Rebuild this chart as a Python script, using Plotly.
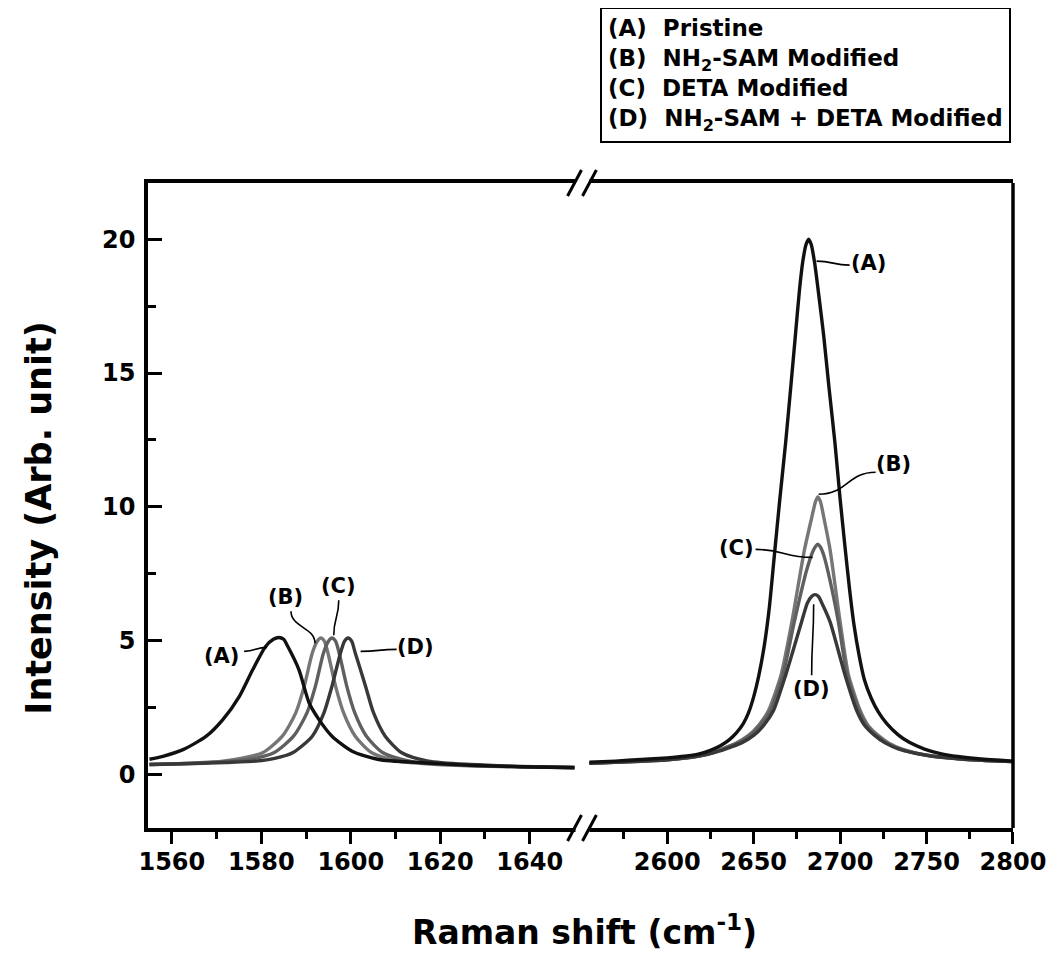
import plotly.graph_objects as go

# ---------------- data ----------------
# G band region (left panel)
A_g_x = [1555, 1558, 1562.5, 1567.7, 1571.4, 1575.1, 1578.1, 1581.0, 1582.7, 1583.9, 1585.0, 1585.9, 1588.4, 1590.7, 1592.9, 1595.8, 1600.3, 1606.2, 1615.8, 1627, 1638, 1650]
A_g_y = [0.57, 0.68, 0.93, 1.43, 2.05, 2.92, 3.92, 4.79, 5.05, 5.12, 5.05, 4.79, 3.92, 2.67, 2.05, 1.43, 0.87, 0.56, 0.44, 0.34, 0.29, 0.25]

B_g_x = [1555, 1565, 1571.4, 1576, 1580.3, 1584.7, 1587.7, 1589.6, 1591.4, 1592.5, 1593.3, 1594.1, 1594.9, 1596.6, 1598.4, 1601, 1604.7, 1610.7, 1619.6, 1630, 1640, 1650]
B_g_y = [0.37, 0.43, 0.5, 0.62, 0.81, 1.43, 2.3, 3.3, 4.54, 4.98, 5.1, 4.98, 4.54, 3.3, 2.3, 1.43, 0.81, 0.5, 0.37, 0.31, 0.28, 0.26]

C_g_x = [1555, 1565, 1572, 1578, 1582.8, 1587.2, 1590.2, 1592.1, 1593.9, 1595.0, 1595.8, 1596.6, 1597.4, 1599.1, 1600.9, 1603.5, 1607.2, 1613.2, 1622, 1632, 1641, 1650]
C_g_y = [0.37, 0.42, 0.48, 0.58, 0.81, 1.43, 2.3, 3.3, 4.54, 4.98, 5.1, 4.98, 4.54, 3.3, 2.3, 1.43, 0.81, 0.5, 0.37, 0.31, 0.28, 0.26]

D_g_x = [1555, 1565, 1572, 1578.8, 1583, 1587, 1591.4, 1594, 1595.8, 1597.7, 1598.6, 1599.4, 1600.2, 1601, 1603.3, 1605.1, 1607.7, 1611.4, 1617.3, 1627, 1638, 1650]
D_g_y = [0.37, 0.41, 0.45, 0.5, 0.6, 0.81, 1.43, 2.3, 3.3, 4.54, 4.98, 5.1, 4.98, 4.54, 3.3, 2.3, 1.43, 0.81, 0.5, 0.37, 0.3, 0.26]

# 2D band region (right panel)
A_2d_x = [2555, 2570, 2585, 2600, 2610, 2618, 2625, 2631, 2636, 2640, 2644, 2647, 2650, 2653, 2656, 2659, 2662, 2665,
          2668.5, 2671.5, 2674, 2676.5, 2678.5, 2680.3, 2681.8, 2683.3, 2685.3, 2687.5, 2690.5, 2693.5, 2697, 2700,
          2703, 2705.5, 2708, 2711, 2714, 2718, 2722, 2727, 2733.6, 2740, 2748.8, 2758, 2768, 2785, 2800]
A_2d_y = [0.46, 0.5, 0.56, 0.62, 0.68, 0.76, 0.9, 1.08, 1.3, 1.55, 1.9, 2.3, 2.9, 3.7, 4.75, 6.2, 8.2, 10.2,
          12.4, 14.5, 16.3, 18.1, 19.2, 19.8, 20.0, 19.8, 19.1, 18.0, 16.4, 14.5, 12.4, 10.3,
          8.4, 6.9, 5.6, 4.45, 3.55, 2.85, 2.35, 1.9, 1.48, 1.2, 0.95, 0.78, 0.67, 0.56, 0.5]

B_2d_x = [2555, 2580, 2600, 2615, 2624, 2631.7, 2640, 2647, 2653, 2658.6, 2665.9, 2672.1, 2679.4, 2683.6, 2685.8, 2687.1,
          2688.6, 2690.9, 2694.2, 2700, 2704.8, 2711.6, 2716, 2722, 2728, 2735.5, 2750, 2770, 2800]
B_2d_y = [0.42, 0.48, 0.55, 0.65, 0.78, 0.96, 1.18, 1.46, 1.85, 2.39, 3.73, 5.7, 8.4, 9.6, 10.2, 10.37,
          10.2, 9.5, 8.4, 5.7, 3.73, 2.39, 1.85, 1.46, 1.18, 0.96, 0.72, 0.58, 0.48]

C_2d_x = [2555, 2580, 2600, 2615, 2625, 2632.5, 2641, 2648, 2654, 2659.8, 2667, 2673.5, 2680.5, 2684, 2685.8, 2687.1,
          2688.6, 2690.5, 2694, 2699, 2704, 2710.8, 2715, 2721, 2727, 2734.5, 2750, 2770, 2800]
C_2d_y = [0.42, 0.48, 0.55, 0.65, 0.78, 0.96, 1.18, 1.46, 1.85, 2.39, 3.73, 5.7, 7.6, 8.3, 8.52, 8.6,
          8.5, 8.2, 7.3, 5.7, 3.73, 2.39, 1.85, 1.46, 1.18, 0.96, 0.72, 0.58, 0.48]

D_2d_x = [2555, 2580, 2600, 2615, 2626, 2634, 2643, 2650, 2656, 2661.5, 2668.6, 2677.7, 2681, 2683.5, 2685.5, 2687.5,
          2689.5, 2694.2, 2702.8, 2709.6, 2714, 2720, 2726, 2733.6, 2750, 2770, 2800]
D_2d_y = [0.42, 0.48, 0.55, 0.66, 0.8, 0.96, 1.18, 1.46, 1.85, 2.39, 3.73, 5.7, 6.4, 6.65, 6.72, 6.65,
          6.4, 5.7, 3.73, 2.39, 1.85, 1.46, 1.18, 0.96, 0.72, 0.58, 0.48]

series_names = ["(A) Pristine", "(B) NH2-SAM Modified", "(C) DETA Modified", "(D) NH2-SAM + DETA Modified"]
series_tags = ["(A)", "(B)", "(C)", "(D)"]
series_colors = ["#111111", "#767676", "#5f5f5f", "#383838"]

legend_lines = ["(A)  Pristine", "(B)  NH<sub>2</sub>-SAM Modified", "(C)  DETA Modified",
                "(D)  NH<sub>2</sub>-SAM + DETA Modified"]

y_ticks = [0, 5, 10, 15, 20]
y_minor = [2.5, 7.5, 12.5, 17.5]
left_ticks = [1560, 1580, 1600, 1620, 1640]
left_minor = [1570, 1590, 1610, 1630]
right_ticks = [2600, 2650, 2700, 2750, 2800]
right_minor = [2575, 2625, 2675, 2725, 2775]

# ---------------- figure ----------------
FONT = "DejaVu Sans"
fig = go.Figure()

g_sets = [(A_g_x, A_g_y), (B_g_x, B_g_y), (C_g_x, C_g_y), (D_g_x, D_g_y)]
d_sets = [(A_2d_x, A_2d_y), (B_2d_x, B_2d_y), (C_2d_x, C_2d_y), (D_2d_x, D_2d_y)]

order = [1, 2, 3, 0]
for i in order:
    gx, gy = g_sets[i]
    fig.add_trace(go.Scatter(x=gx, y=gy, mode="lines",
                             line=dict(color=series_colors[i], width=3.4, shape="spline", smoothing=0.7),
                             name=series_names[i], xaxis="x", yaxis="y", showlegend=False))
for i in order:
    dx, dy = d_sets[i]
    fig.add_trace(go.Scatter(x=dx, y=dy, mode="lines",
                             line=dict(color=series_colors[i], width=3.4, shape="spline", smoothing=0.6),
                             name=series_names[i], xaxis="x2", yaxis="y", showlegend=False))

# page body has an 8px margin: compensate so the plot area lands where the reference has it
OFF = 8
W, H = 1058 - OFF, 969 - OFF
PL, PT, PR, PB = 148, 183, 1018, 828          # plot area in page pixels
L, T = PL - OFF, PT - OFF
R, B = W - (PR - OFF), H - (PB - OFF)
pw, ph = PR - PL, PB - PT
brk = (585 - PL) / pw


def px(xp):
    return (xp - PL) / pw


def py(yp):
    return (PB - yp) / ph


tickfont = dict(family=FONT, size=24, color="black", weight="bold")
common_x = dict(showline=True, linewidth=3.5, linecolor="black", mirror=True, showgrid=False, zeroline=False,
                ticks="outside", ticklen=12, tickwidth=3, tickcolor="black", tickfont=tickfont, anchor="y",
                ticklabelstandoff=-3)

fig.update_layout(
    width=W, height=H,
    margin=dict(l=L, r=R, t=T, b=B),
    paper_bgcolor="white", plot_bgcolor="white",
    xaxis=dict(domain=[0, brk], range=[1554.67, 1651.8], tickvals=left_ticks,
               minor=dict(tickvals=left_minor, ticks="outside", ticklen=7, tickwidth=2.5, tickcolor="black"),
               **common_x),
    xaxis2=dict(domain=[brk, 1], range=[2551, 2800], tickvals=right_ticks,
                minor=dict(tickvals=right_minor, ticks="outside", ticklen=7, tickwidth=2.5, tickcolor="black"),
                **common_x),
    yaxis=dict(range=[-2, 22.1], tickvals=y_ticks, showline=True, linewidth=3.5, linecolor="black", mirror=False,
               showgrid=False, zeroline=False, ticks="inside", ticklen=14, tickwidth=3, tickcolor="black",
               minor=dict(tickvals=y_minor, ticks="inside", ticklen=8, tickwidth=2.5, tickcolor="black"),
               tickfont=tickfont, ticklabelstandoff=4),
)

annots = []
annots.append(dict(text="Raman shift (cm<sup>-1</sup>)", xref="paper", yref="paper", x=px(587), y=py(930),
                   showarrow=False, xanchor="center", yanchor="middle",
                   font=dict(family=FONT, size=33, color="black", weight="bold")))
annots.append(dict(text="Intensity (Arb. unit)", xref="paper", yref="paper", x=px(38), y=py(518),
                   showarrow=False, textangle=-90, xanchor="center", yanchor="middle",
                   font=dict(family=FONT, size=35, color="black", weight="bold")))
annots.append(dict(text="<br>".join(legend_lines), xref="paper", yref="paper", x=px(1016), y=py(7),
                   showarrow=False, xanchor="right", yanchor="top", align="left",
                   bordercolor="black", borderwidth=2, borderpad=6, bgcolor="white",
                   font=dict(family=FONT, size=23, color="black", weight="bold")))

shapes = []
# peak labels: tag, axis, anchor x, anchor y (on curve), text offset, leader end offset (screen px, y down), style
label_specs = [
    (0, "x", 1581.3, 4.75, (-46, 9), (-23, 4), "h"),
    (1, "x", 1592.0, 4.9, (-29, -46), (-24, -32), "v"),
    (2, "x", 1596.2, 5.2, (5, -49), (5, -35), "v"),
    (3, "x", 1602.2, 4.6, (55, -4), (36, -2), "h"),
    (0, "x2", 2686.4, 19.18, (52, 2), (33, 4), "h"),
    (1, "x2", 2687.6, 10.47, (75, -30), (57, -22), "h"),
    (2, "x2", 2684.1, 8.11, (-76, -9), (-57, -8), "h"),
    (3, "x2", 2684.7, 6.36, (-2, 85), (-2, 71), "v"),
]
for idx, xr, xv, yv, (tx, ty), (lx, ly), style in label_specs:
    annots.append(dict(text=series_tags[idx], xref=xr, yref="y", x=xv, y=yv, xshift=tx, yshift=-ty,
                       showarrow=False, xanchor="center", yanchor="middle",
                       font=dict(family=FONT, size=21, color="black", weight="bold")))
    Ly = -ly
    if style == "h":
        path = f"M 0,0 C {lx/2},0 {lx/2},{Ly} {lx},{Ly}"
    else:
        path = f"M 0,0 C 0,{Ly/2} {lx},{Ly/2} {lx},{Ly}"
    shapes.append(dict(type="path", xref=xr, yref="y", xsizemode="pixel", ysizemode="pixel",
                       xanchor=xv, yanchor=yv, path=path, line=dict(color="black", width=1.6), layer="above"))

# right frame line (y axis not mirrored, to avoid a line at the break)
shapes.append(dict(type="line", xref="paper", yref="paper", x0=1, x1=1, y0=0, y1=1,
                   line=dict(color="black", width=3.5), layer="above"))
# axis-break marks
for yp in (PT, PB):
    shapes.append(dict(type="rect", xref="paper", yref="paper", x0=px(578), x1=px(592), y0=py(yp + 4), y1=py(yp - 4),
                       fillcolor="white", line=dict(width=0), layer="above"))
    for cx in (577, 592):
        shapes.append(dict(type="line", xref="paper", yref="paper", x0=px(cx - 7), y0=py(yp + 13),
                           x1=px(cx + 7), y1=py(yp - 13), line=dict(color="black", width=3), layer="above"))
fig.update_layout(annotations=annots, shapes=shapes)

fig.write_html("out.html")
